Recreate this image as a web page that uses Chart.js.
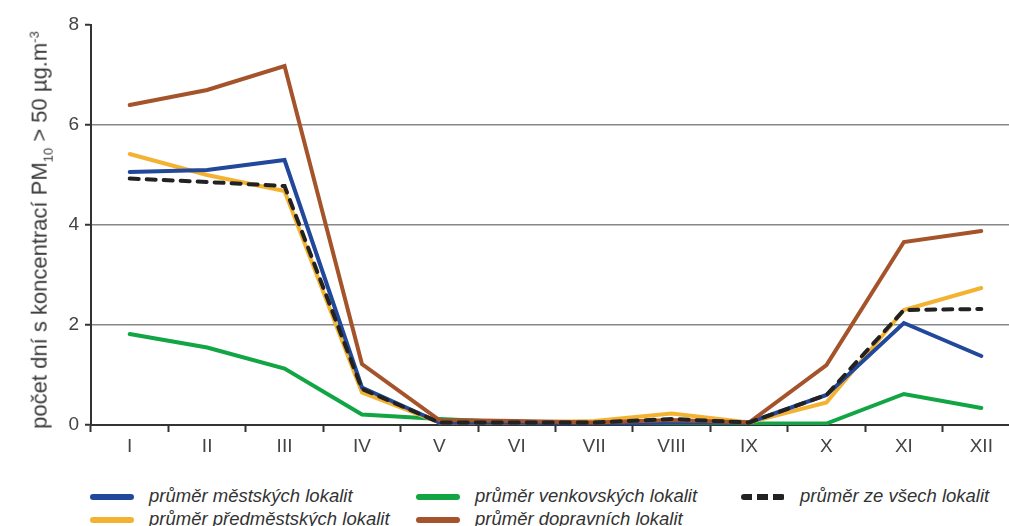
<!DOCTYPE html>
<html>
<head>
<meta charset="utf-8">
<script src="https://cdn.jsdelivr.net/npm/chart.js@4"></script>
<style>
    html, body { margin: 0; padding: 0; background: #fff; overflow: hidden; width: 1009px; height: 526px; }
    #wrap { position: absolute; left: 0; top: 0; width: 1025px; height: 470px; }
    #yTitle { position: absolute; left: 41px; top: 230px; transform: translate(-50%, -50%) rotate(-90deg);
        white-space: nowrap; font: 22px "Liberation Sans", Arial, sans-serif; color: #3a3a3a; }
    #yTitle sub, #yTitle sup { font-size: 13px; }
    .lg { position: absolute; font: italic 18.5px "Liberation Sans", Arial, sans-serif; color: #333; white-space: nowrap; }
    .sw { position: absolute; width: 44px; height: 6px; border-radius: 3px; }
</style>
</head>
<body>
<div id="wrap"><canvas id="pmChart"></canvas></div>
<div id="yTitle">počet dní s koncentrací PM<sub>10</sub> &gt; 50 µg.m<sup>-3</sup></div>
<div id="legend"></div>
<script>
const months = ['I', 'II', 'III', 'IV', 'V', 'VI', 'VII', 'VIII', 'IX', 'X', 'XI', 'XII'];

const mestske = [5.06, 5.1, 5.3, 0.75, 0.05, 0.05, 0.03, 0.05, 0.05, 0.6, 2.04, 1.38];
const predmestske = [5.42, 5.0, 4.68, 0.65, 0.05, 0.05, 0.08, 0.23, 0.05, 0.45, 2.3, 2.74];
const venkovske = [1.82, 1.55, 1.13, 0.21, 0.12, 0.05, 0.03, 0.03, 0.03, 0.03, 0.62, 0.34];
const dopravni = [6.4, 6.7, 7.18, 1.22, 0.1, 0.08, 0.05, 0.1, 0.05, 1.2, 3.66, 3.88];
const vsechny = [4.93, 4.86, 4.78, 0.72, 0.05, 0.05, 0.05, 0.12, 0.05, 0.6, 2.3, 2.32];

const yTicks = [0, 2, 4, 6, 8];

const names = {
    mestske: 'průměr městských lokalit',
    predmestske: 'průměr předměstských lokalit',
    venkovske: 'průměr venkovských lokalit',
    dopravni: 'průměr dopravních lokalit',
    vsechny: 'průměr ze všech lokalit'
};

const colors = {
    mestske: '#21489a',
    predmestske: '#f4b232',
    venkovske: '#12a544',
    dopravni: '#a4532a',
    vsechny: '#222222'
};

function lineSet(key, data, dash) {
    return {
        label: names[key],
        data: data,
        borderColor: colors[key],
        backgroundColor: colors[key],
        borderWidth: 4,
        borderDash: dash || [],
        borderCapStyle: 'round',
        borderJoinStyle: 'miter',
        pointRadius: 0,
        tension: 0,
        fill: false
    };
}

const tickFont = { family: 'Liberation Sans, Arial, sans-serif', size: 19 };

const ctx = document.getElementById('pmChart').getContext('2d');
new Chart(ctx, {
    type: 'line',
    data: {
        labels: months,
        datasets: [
            lineSet('vsechny', vsechny, [9, 8]),
            lineSet('dopravni', dopravni),
            lineSet('mestske', mestske),
            lineSet('predmestske', predmestske),
            lineSet('venkovske', venkovske)
        ]
    },
    options: {
        responsive: true,
        maintainAspectRatio: false,
        animation: false,
        layout: { padding: { left: 0, top: 25, right: 5, bottom: 0 } },
        plugins: { legend: { display: false }, tooltip: { enabled: false } },
        scales: {
            x: {
                type: 'category',
                offset: true,
                grid: { drawOnChartArea: false, offset: true, tickLength: 7, tickColor: '#333', tickWidth: 2 },
                border: { color: '#333', width: 2 },
                ticks: { color: '#444', font: tickFont, padding: 3 },
                afterFit: (s) => { s.height = 45; }
            },
            y: {
                min: 0,
                max: 8,
                afterBuildTicks: (s) => { s.ticks = yTicks.map(v => ({ value: v })); },
                grid: {
                    color: (c) => (c.tick && (c.tick.value === 0 || c.tick.value === 8)) ? 'rgba(0,0,0,0)' : '#888',
                    lineWidth: 1.5,
                    tickColor: '#333',
                    tickLength: 6,
                    tickWidth: 2
                },
                border: { color: '#333', width: 2 },
                ticks: { color: '#444', font: tickFont, padding: 6 },
                afterFit: (s) => { s.width = 91; }
            }
        }
    }
});

// legend in three columns, two rows
const legendItems = [
    { key: 'mestske', x: 90, y: 497 },
    { key: 'predmestske', x: 90, y: 520 },
    { key: 'venkovske', x: 416, y: 497 },
    { key: 'dopravni', x: 416, y: 520 },
    { key: 'vsechny', x: 741, y: 497 }
];
const lg = document.getElementById('legend');
legendItems.forEach(it => {
    const sw = document.createElement('div');
    sw.className = 'sw';
    sw.style.left = it.x + 'px';
    sw.style.top = (it.y - 3) + 'px';
    if (it.key === 'vsechny') {
        sw.style.background = 'repeating-linear-gradient(90deg,' + colors[it.key] + ' 0 11px, transparent 11px 16px)';
    } else {
        sw.style.background = colors[it.key];
    }
    lg.appendChild(sw);
    const t = document.createElement('div');
    t.className = 'lg';
    t.style.left = (it.x + 59) + 'px';
    t.style.top = (it.y - 12) + 'px';
    t.textContent = names[it.key];
    lg.appendChild(t);
});
</script>
</body>
</html>
